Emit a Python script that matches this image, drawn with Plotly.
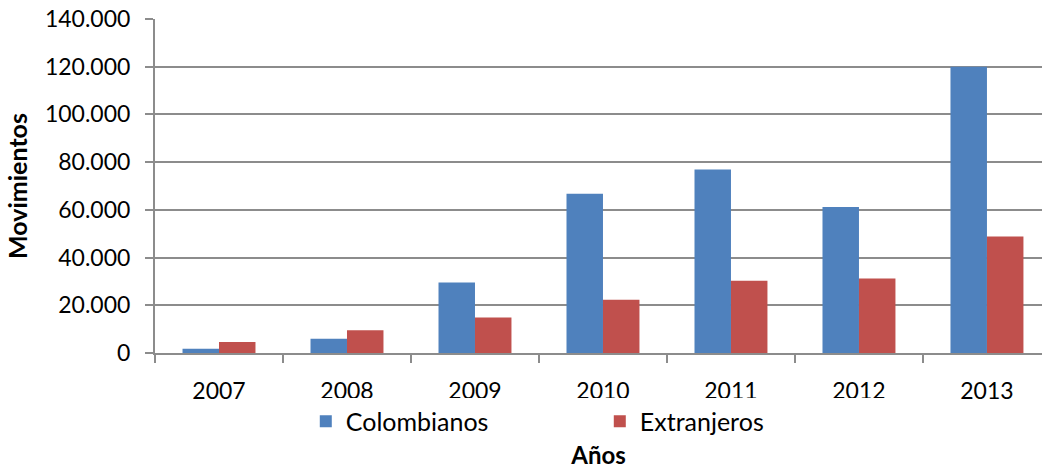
import plotly.graph_objects as go

years = ["2007", "2008", "2009", "2010", "2011", "2012", "2013"]
colombianos = [1800, 6000, 29500, 66800, 76900, 61200, 120000]
extranjeros = [4600, 9500, 14900, 22300, 30300, 31200, 48800]
y_ticks = [0, 20000, 40000, 60000, 80000, 100000, 120000, 140000]

FONT = "Lato"
GRID = "#8c8c8c"

fig = go.Figure()
fig.add_trace(go.Bar(x=years, y=colombianos, name="Colombianos",
                     marker=dict(color="#4F81BD", line=dict(width=0))))
fig.add_trace(go.Bar(x=years, y=extranjeros, name="Extranjeros",
                     marker=dict(color="#C0504D", line=dict(width=0))))

fig.update_layout(
    width=1042, height=469,
    margin=dict(l=155, r=0, t=19, b=116, autoexpand=False),
    paper_bgcolor="white", plot_bgcolor="white",
    separators=",.",
    barmode="group", bargap=0.43, bargroupgap=0,
    font=dict(family=FONT, size=23, color="black"),
    showlegend=True,
    legend=dict(orientation="h", x=0.170, xanchor="left", y=-0.205, yanchor="middle",
                entrywidth=249, font=dict(size=25), itemclick=False),
    xaxis=dict(range=[-0.5, 6.43], showline=True, linecolor=GRID, linewidth=2,
               ticks="outside", tickson="boundaries", ticklen=8, tickcolor=GRID, tickwidth=2,
               showgrid=False, ticklabelstandoff=16, automargin=False,
               title=dict(text="<b>Años</b>", font=dict(size=24), standoff=56)),
    yaxis=dict(range=[0, 140000], tickvals=y_ticks, tickformat=",d",
               showline=True, linecolor=GRID, linewidth=2,
               ticks="outside", ticklen=8, tickcolor=GRID, tickwidth=2,
               showgrid=True, gridcolor=GRID, gridwidth=2, zeroline=False,
               ticklabelstandoff=10, automargin=False, ticklabeloverflow="allow",
               title=dict(text="<b>Movimientos</b>", font=dict(size=25), standoff=10)),
)

# remove the default 8px page margin so the figure fills the window exactly
fig.write_html("out.html", config={"displayModeBar": False},
               post_script="document.body.style.margin='0';")
